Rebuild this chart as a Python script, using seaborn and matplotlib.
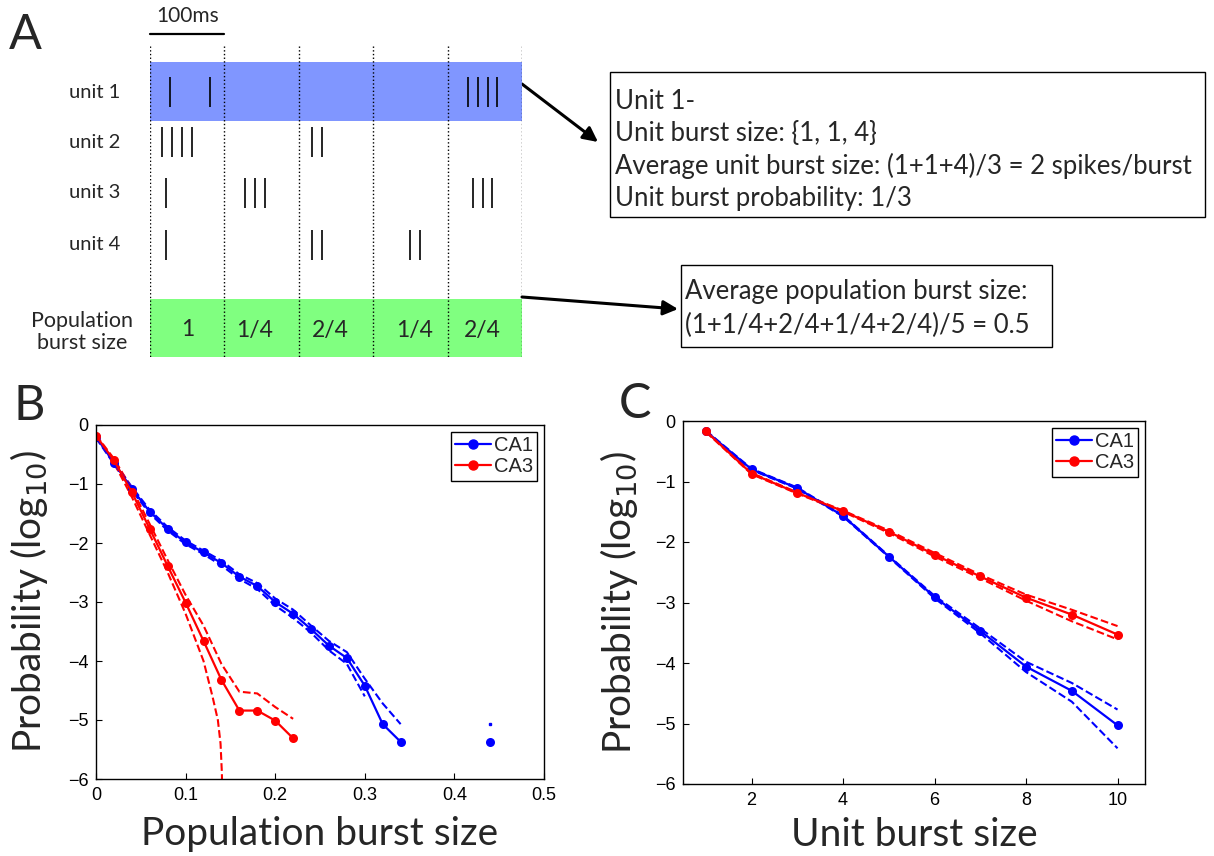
import numpy as np
import matplotlib
matplotlib.use("Agg")
import matplotlib.pyplot as plt
from matplotlib.lines import Line2D
from matplotlib.patches import Rectangle
import seaborn as sns

# ---- panel A: toy raster (spike times in ms) ----
unit_names = ["unit 1", "unit 2", "unit 3", "unit 4"]
spikes_u1 = [27, 81, 427, 441, 454, 466]
spikes_u2 = [16, 30, 43, 56, 218, 231]
spikes_u3 = [22, 128, 141, 154, 434, 448, 460]
spikes_u4 = [22, 218, 231, 349, 363]
bin_edges = [0, 100, 200, 300, 400, 500]
pop_burst_labels = ["1", "1/4", "2/4", "1/4", "2/4"]
box1_lines = ["Unit 1-",
              "Unit burst size: {1, 1, 4}",
              "Average unit burst size: (1+1+4)/3 = 2 spikes/burst",
              "Unit burst probability: 1/3"]
box2_lines = ["Average population burst size:",
              "(1+1/4+2/4+1/4+2/4)/5 = 0.5"]

# ---- panel B: population burst size distribution (log10 prob) ----
pop_x = [0, 0.02, 0.04, 0.06, 0.08, 0.10, 0.12, 0.14, 0.16, 0.18, 0.20, 0.22,
         0.24, 0.26, 0.28, 0.30, 0.32, 0.34, 0.36, 0.38, 0.40, 0.42, 0.44]
nan = np.nan
ca1_pop = [-0.20, -0.64, -1.08, -1.47, -1.76, -1.99, -2.16, -2.34, -2.57, -2.73, -3.00, -3.20,
           -3.46, -3.74, -3.95, -4.42, -5.07, -5.37, nan, nan, nan, nan, -5.37]
ca1_pop_hi = [-0.18, -0.62, -1.05, -1.44, -1.73, -1.96, -2.13, -2.30, -2.53, -2.68, -2.94, -3.13,
              -3.40, -3.66, -3.85, -4.30, -4.72, -5.07, nan, nan, nan, nan, -5.07]
ca1_pop_lo = [-0.22, -0.66, -1.11, -1.50, -1.79, -2.02, -2.19, -2.38, -2.61, -2.78, -3.06, -3.27,
              -3.52, -3.82, -4.05, -4.60, nan, nan, nan, nan, nan, nan, nan]
ca3_pop_x = [0, 0.02, 0.04, 0.06, 0.08, 0.10, 0.12, 0.14, 0.16, 0.18, 0.20, 0.22]
ca3_pop = [-0.18, -0.60, -1.14, -1.76, -2.39, -3.01, -3.66, -4.32, -4.84, -4.84, -5.01, -5.31]
ca3_pop_hi = [-0.17, -0.57, -1.08, -1.68, -2.29, -2.88, -3.40, -4.05, -4.52, -4.55, -4.78, -4.98]
ca3_lo_x = [0, 0.02, 0.04, 0.06, 0.08, 0.10, 0.12, 0.13, 0.136, 0.139, 0.1405, 0.141]
ca3_pop_lo = [-0.20, -0.64, -1.22, -1.86, -2.50, -3.20, -4.00, -4.60, -5.00, -5.40, -5.90, -6.50]

# ---- panel C: unit burst size distribution (log10 prob) ----
unit_x = [1, 2, 3, 4, 5, 6, 7, 8, 9, 10]
ca1_unit = [-0.17, -0.80, -1.11, -1.57, -2.24, -2.91, -3.47, -4.06, -4.46, -5.03]
ca1_unit_hi = [-0.16, -0.79, -1.10, -1.56, -2.23, -2.89, -3.43, -3.98, -4.33, -4.77]
ca1_unit_lo = [-0.18, -0.81, -1.12, -1.58, -2.25, -2.93, -3.51, -4.15, -4.64, -5.41]
ca3_unit = [-0.17, -0.87, -1.19, -1.49, -1.83, -2.21, -2.57, -2.92, -3.20, -3.53]
ca3_unit_hi = [-0.16, -0.86, -1.18, -1.48, -1.81, -2.18, -2.54, -2.87, -3.12, -3.39]
ca3_unit_lo = [-0.18, -0.88, -1.20, -1.50, -1.85, -2.24, -2.60, -2.97, -3.31, -3.61]

W, H = 1214, 856
BLUE, RED = "#0000ff", "#ff0000"
GILL = ["Lato", "DejaVu Sans"]
HELV = ["Liberation Sans", "DejaVu Sans"]

sns.set_style("ticks", {"xtick.direction": "in", "ytick.direction": "in"})
plt.rcParams["font.family"] = HELV
plt.rcParams["axes.linewidth"] = 1.0
plt.rcParams["axes.edgecolor"] = "black"

fig = plt.figure(figsize=(W / 100, H / 100), dpi=100)

# overlay in figure pixels for text boxes, arrows and panel letters
ov = fig.add_axes([0, 0, 1, 1])
ov.set_xlim(0, W)
ov.set_ylim(H, 0)
ov.axis("off")

# raster axes: x in ms, y in pixel rows from the top of the figure
axA = fig.add_axes([150 / W, 1 - 357 / H, (522 - 150) / W, 357 / H])
axA.set_xlim(0, 500)
axA.set_ylim(357, 0)
axA.axis("off")

axA.add_patch(Rectangle((0, 62), 500, 59, color="#8096ff", lw=0))
axA.add_patch(Rectangle((0, 299), 500, 58, color="#80ff80", lw=0))
axA.vlines(bin_edges, 46, 357, colors="k", linestyles=":", lw=1)
axA.plot([0, 100], [34, 34], color="k", lw=1.6, clip_on=False)
axA.text(50, 16, "100ms", ha="center", va="center", fontsize=15, family=GILL)

row_y = [92, 142, 193, 245]
for name, times, yc in zip(unit_names, [spikes_u1, spikes_u2, spikes_u3, spikes_u4], row_y):
    axA.vlines(times, yc - 15, yc + 15, colors="k", lw=1.2)
    axA.text(-74, yc, name, ha="center", va="center", fontsize=14.5, family=GILL, clip_on=False)
axA.text(-91, 332, "Population\nburst size", ha="center", va="center", fontsize=15.5,
         family=GILL, linespacing=1.1, clip_on=False)
label_ms = [51, 141, 242, 356, 446]
for xm, lab in zip(label_ms, pop_burst_labels):
    axA.text(xm, 330, lab, ha="center", va="center", fontsize=16.5, family=GILL)

# text boxes
ov.add_patch(Rectangle((610, 72), 595, 145, fill=False, ec="k", lw=1))
for i, line in enumerate(box1_lines):
    ov.text(615, 101 + 32.5 * i, line, ha="left", va="center", fontsize=18.5, family=GILL)
ov.add_patch(Rectangle((681, 265), 371, 82, fill=False, ec="k", lw=1))
for i, line in enumerate(box2_lines):
    ov.text(685, 292 + 33 * i, line, ha="left", va="center", fontsize=18.5, family=GILL)

arrow = dict(arrowstyle="-|>", color="k", lw=2.2, mutation_scale=22, shrinkA=0, shrinkB=0)
ov.annotate("", xy=(598, 142), xytext=(522, 84), arrowprops=arrow)
ov.annotate("", xy=(678, 309), xytext=(522, 297), arrowprops=arrow)

for letter, (px, py) in zip("ABC", [(9, 35), (13, 406), (619, 404)]):
    ov.text(px, py, letter, ha="left", va="center", fontsize=35, family=GILL)


def draw_series(ax, x, y, color, dashed=False):
    x = np.asarray(x, float)
    y = np.asarray(y, float)
    idx = np.flatnonzero(~np.isnan(y))
    runs = np.split(idx, np.where(np.diff(idx) > 1)[0] + 1)
    for r in runs:
        if len(r) == 0:
            continue
        if dashed:
            if len(r) == 1:
                ax.plot(x[r], y[r], marker="s", ms=2, color=color, lw=0)
            else:
                sns.lineplot(x=x[r], y=y[r], ax=ax, color=color, linestyle="--", lw=1.5,
                             estimator=None, sort=False, errorbar=None)
        else:
            sns.lineplot(x=x[r], y=y[r], ax=ax, color=color, lw=1.6, marker="o", ms=6.5,
                         markeredgewidth=0, estimator=None, sort=False, errorbar=None)


def style_axes(ax, xlabel, label_x, label_y):
    ax.set_ylim(-6, 0)
    ax.set_yticks(range(-6, 1))
    ax.set_yticklabels(["\u22126", "\u22125", "\u22124", "\u22123", "\u22122", "\u22121", "0"])
    for s in ax.spines.values():
        s.set_visible(True)
    ax.tick_params(direction="in", length=4, width=0.8, labelsize=13, pad=5.5, colors="k")
    ax.set_xlabel(xlabel, fontsize=28, family=GILL)
    ax.set_ylabel("Probability (log$_{10}$)", fontsize=28, family=GILL)
    ax.yaxis.set_label_coords(label_x, 0.5)
    ax.xaxis.set_label_coords(0.5, label_y)
    handles = [Line2D([], [], color=BLUE, lw=1.6, marker="o", ms=6.5, label="CA1"),
               Line2D([], [], color=RED, lw=1.6, marker="o", ms=6.5, label="CA3")]
    leg = ax.legend(handles=handles, loc="upper right", fontsize=14.5, frameon=True,
                    fancybox=False, edgecolor="k", framealpha=1, borderpad=0.2,
                    labelspacing=0.12, handlelength=1.8, handletextpad=0.15, borderaxespad=0.35)
    leg.get_frame().set_linewidth(1.0)


axB = fig.add_axes([96 / W, 1 - 779 / H, 448 / W, 354 / H])
draw_series(axB, pop_x, ca1_pop_hi, BLUE, dashed=True)
draw_series(axB, pop_x, ca1_pop_lo, BLUE, dashed=True)
draw_series(axB, ca3_pop_x, ca3_pop_hi, RED, dashed=True)
draw_series(axB, ca3_lo_x, ca3_pop_lo, RED, dashed=True)
draw_series(axB, pop_x, ca1_pop, BLUE)
draw_series(axB, ca3_pop_x, ca3_pop, RED)
axB.set_xlim(0, 0.5)
axB.set_xticks([0, 0.1, 0.2, 0.3, 0.4, 0.5])
axB.set_xticklabels(["0", "0.1", "0.2", "0.3", "0.4", "0.5"])
style_axes(axB, "Population burst size", -0.103, -0.105)

axC = fig.add_axes([683 / W, 1 - 784 / H, 462 / W, 363 / H])
draw_series(axC, unit_x, ca1_unit_hi, BLUE, dashed=True)
draw_series(axC, unit_x, ca1_unit_lo, BLUE, dashed=True)
draw_series(axC, unit_x, ca3_unit_hi, RED, dashed=True)
draw_series(axC, unit_x, ca3_unit_lo, RED, dashed=True)
draw_series(axC, unit_x, ca1_unit, BLUE)
draw_series(axC, unit_x, ca3_unit, RED)
axC.set_xlim(0.5, 10.6)
axC.set_xticks([2, 4, 6, 8, 10])
style_axes(axC, "Unit burst size", -0.093, -0.09)

fig.savefig("out.png", dpi=100)
